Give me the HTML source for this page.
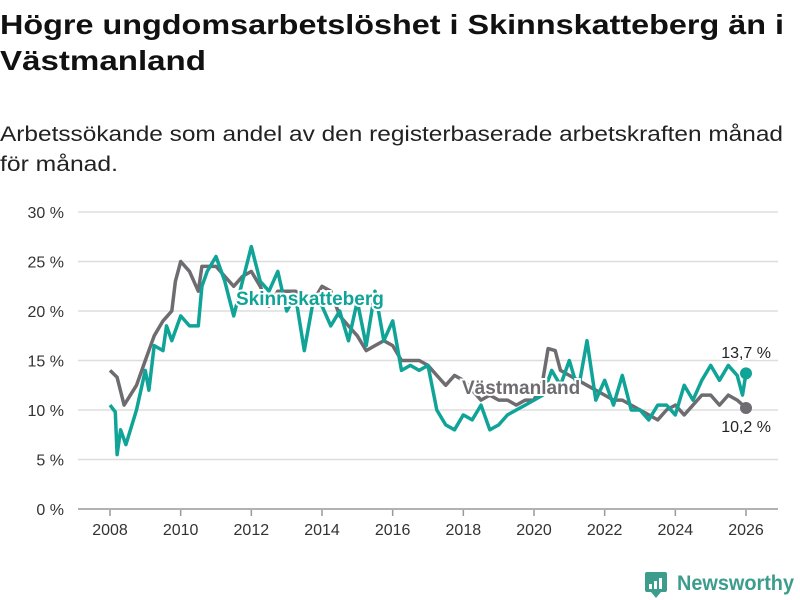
<!DOCTYPE html>
<html><head><meta charset="utf-8"><style>
body{margin:0;background:#fff;}
svg{display:block;font-family:"Liberation Sans","DejaVu Sans",sans-serif;}
</style></head><body>
<svg id="chart" width="800" height="600" viewBox="0 0 800 600">
<text x="0" y="34" font-size="28" font-weight="bold" fill="#111" textLength="784" lengthAdjust="spacingAndGlyphs">Högre ungdomsarbetslöshet i Skinnskatteberg än i</text>
<text x="0" y="70" font-size="28" font-weight="bold" fill="#111" textLength="206" lengthAdjust="spacingAndGlyphs">Västmanland</text>
<text x="0" y="141" font-size="21" fill="#222" textLength="783" lengthAdjust="spacingAndGlyphs">Arbetssökande som andel av den registerbaserade arbetskraften månad</text>
<text x="0" y="171" font-size="21" fill="#222" textLength="118" lengthAdjust="spacingAndGlyphs">för månad.</text>
<g id="grid"></g><g id="xaxis"></g><g id="lines"></g><g id="labels"></g>
<g>
<rect x="645" y="572" width="22" height="20" rx="2" fill="#3d9d8c"/>
<path d="M651 592 L656 598 L661 592 Z" fill="#3d9d8c"/>
<rect x="649" y="584" width="3" height="5" fill="#fff"/><rect x="654" y="581" width="3" height="8" fill="#fff"/><rect x="659" y="578" width="3" height="11" fill="#fff"/>
<text x="677" y="590" font-size="21" font-weight="bold" fill="#3d9d8c" textLength="117" lengthAdjust="spacingAndGlyphs">Newsworthy</text>
</g>
</svg>
<script>
const yTicks=[0,5,10,15,20,25,30];
const xTicks=[2008,2010,2012,2014,2016,2018,2020,2022,2024,2026];
const vTimes=[2008,2008.2,2008.4,2008.75,2009,2009.25,2009.5,2009.75,2009.85,2010,2010.25,2010.5,2010.6,2010.75,2011,2011.25,2011.5,2011.75,2012,2012.25,2012.5,2012.75,2013,2013.25,2013.5,2013.75,2014,2014.25,2014.5,2014.75,2015,2015.25,2015.5,2015.75,2016,2016.25,2016.5,2016.75,2017,2017.25,2017.5,2017.75,2018,2018.25,2018.5,2018.75,2019,2019.25,2019.5,2019.75,2020,2020.25,2020.4,2020.6,2020.75,2021,2021.25,2021.5,2021.75,2022,2022.25,2022.5,2022.75,2023,2023.25,2023.5,2023.75,2024,2024.25,2024.5,2024.75,2025,2025.25,2025.5,2025.75,2026];
const vValues=[14,13.3,10.5,12.5,15,17.5,19,20,23,25,24,22,24.5,24.5,24.5,23.5,22.5,23.5,24,22.5,20.5,22,22,22,21.5,21,22.5,22,19.5,18.5,17.5,16,16.5,17,16.5,15,15,15,14.5,13.5,12.5,13.5,13,12,11,11.5,11,11,10.5,11,11,13,16.2,16,14,13.5,13,12.5,12,11.5,11,11,10.5,10,9.5,9,10,10.5,9.5,10.5,11.5,11.5,10.5,11.5,11,10.2];
const sTimes=[2008,2008.15,2008.2,2008.3,2008.45,2008.75,2009,2009.1,2009.25,2009.5,2009.6,2009.75,2010,2010.25,2010.5,2010.6,2010.75,2011,2011.25,2011.5,2011.75,2012,2012.25,2012.5,2012.75,2013,2013.25,2013.5,2013.75,2014,2014.25,2014.5,2014.75,2015,2015.25,2015.5,2015.75,2016,2016.25,2016.5,2016.75,2017,2017.25,2017.5,2017.75,2018,2018.25,2018.5,2018.75,2019,2019.25,2019.5,2019.75,2020,2020.25,2020.5,2020.75,2021,2021.25,2021.5,2021.75,2022,2022.25,2022.5,2022.75,2023,2023.25,2023.5,2023.75,2024,2024.25,2024.5,2024.75,2025,2025.25,2025.5,2025.75,2025.9,2026];
const sValues=[10.5,9.8,5.5,8,6.5,10,14,12,16.5,16,18.5,17,19.5,18.5,18.5,22.5,24,25.5,23,19.5,23,26.5,23,22,24,20,21.5,16,21,20.5,18.5,20,17,21,16.5,22,17,19,14,14.5,14,14.5,10,8.5,8,9.5,9,10.5,8,8.5,9.5,10,10.5,11,11.5,14,12.5,15,12,17,11,13,10.5,13.5,10,10,9,10.5,10.5,9.5,12.5,11,13,14.5,13,14.5,13.5,11.5,13.7];
const NS='http://www.w3.org/2000/svg';
const X=t=>110+(t-2008)*(636/18);
const Y=v=>509-v*9.9;
function mk(tag,attrs,parent,txt){const e=document.createElementNS(NS,tag);for(const k in attrs)e.setAttribute(k,attrs[k]);if(txt!==undefined)e.textContent=txt;document.getElementById(parent).appendChild(e);return e;}
yTicks.forEach(v=>{
  const l=mk('line',{x1:78,x2:778,y1:Y(v),y2:Y(v),stroke:v===0?'#999':'#ddd','stroke-width':1.5},'grid');
  
  
  const t=mk('text',{x:64,y:Y(v)+6,'font-size':16,fill:'#333','text-anchor':'end'},'grid',v+' %');
  
  
});
xTicks.forEach(y=>{
  const l=mk('line',{x1:X(y),x2:X(y),y1:510,y2:516,stroke:'#999','stroke-width':1.5},'xaxis');
  
  
  const t=mk('text',{x:X(y),y:535,'font-size':16,fill:'#333','text-anchor':'middle'},'xaxis',String(y));
  
  
});
function line(ts,vs,col,name){
  const d=ts.map((t,i)=>(i?'L':'M')+X(t).toFixed(1)+' '+Y(vs[i]).toFixed(1)).join(' ');
  const p=mk('path',{d:d,fill:'none',stroke:col,'stroke-width':3.5,'stroke-linejoin':'round'},'lines');
  
  
  const n=ts.length-1;
  const c=mk('circle',{cx:X(ts[n]),cy:Y(vs[n]),r:6,fill:col},'lines');
  
  
}
line(vTimes,vValues,'#6e6c70','vastmanland');
line(sTimes,sValues,'#0fa497','skinnskatteberg');
function lab(x,y,txt,col,name,size,w,anchor){
  const t=mk('text',{x:x,y:y,'font-size':size,'font-weight':w,fill:col,stroke:'#fff','stroke-width':4,'paint-order':'stroke','text-anchor':anchor||'start'},'labels',txt);
  
  
}
lab(236,305,'Skinnskatteberg','#0fa497','skinnskatteberg-label',19,'bold');
lab(462,394,'Västmanland','#6e6c70','vastmanland-label',19,'bold');
lab(771,358,'13,7 %','#222','skinnskatteberg-end-value',16,'normal','end');
lab(771,432,'10,2 %','#222','vastmanland-end-value',16,'normal','end');
</script>
</body></html>
